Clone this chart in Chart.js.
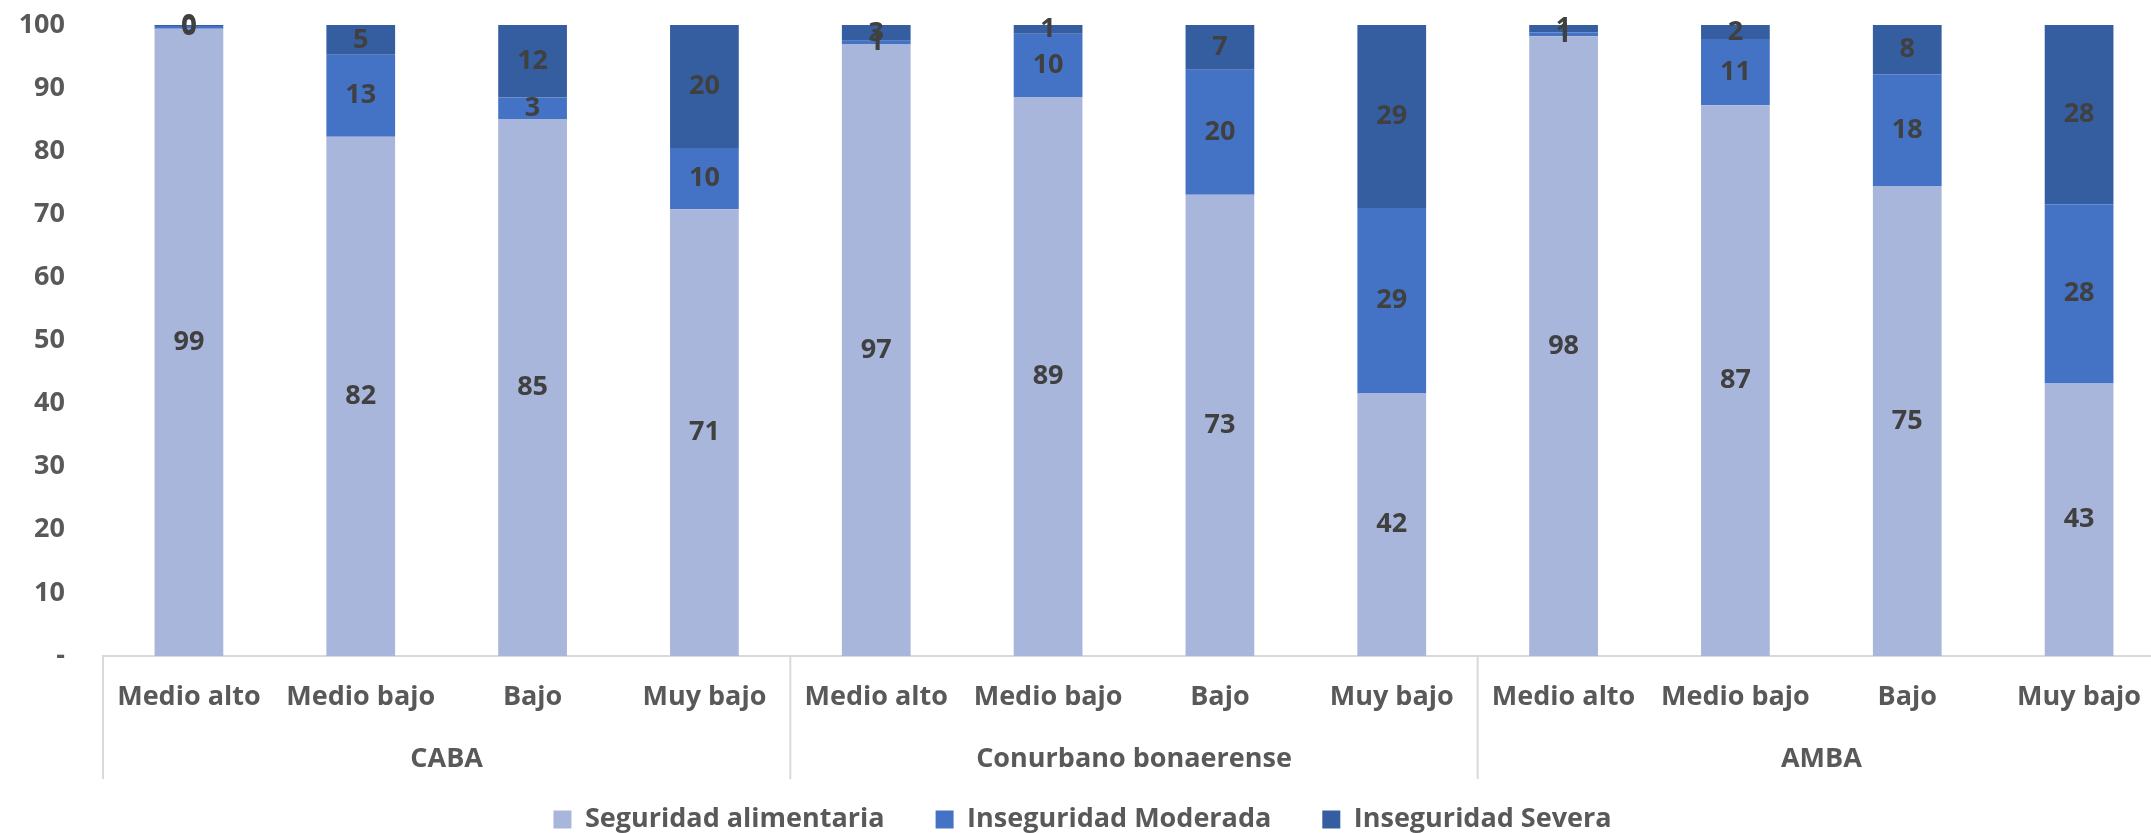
<html>
    <body style="margin:0; background-color:#ffffff; overflow:hidden;">
        <script src="https://cdn.jsdelivr.net/npm/chart.js@4.4.1/dist/chart.umd.min.js"></script>

        <div style="width:2170px; height:843px;">
            <canvas id="chart" width="2170" height="843"></canvas>
        </div>

        <script>
            // categories
            const groups = ["CABA", "Conurbano bonaerense", "AMBA"];
            const levels = ["Medio alto", "Medio bajo", "Bajo", "Muy bajo"];

            // series values (%)
            const seguridad  = [99.4, 82.3, 85.1, 70.8,   96.9, 88.6, 73.1, 41.6,   98.2, 87.3, 74.5, 43.2];
            const moderada   = [0.45, 13.0, 3.4, 9.7,     0.6, 10.0, 19.8, 29.4,    0.6, 10.5, 17.7, 28.4];
            const severa     = [0.15, 4.7, 11.5, 19.5,    2.5, 1.4, 7.1, 29.0,      1.2, 2.2, 7.8, 28.4];

            const yTicks = [0, 10, 20, 30, 40, 50, 60, 70, 80, 90, 100];

            var labelsData = [];
            for (let g = 0; g < groups.length; g++) {
                for (let l = 0; l < levels.length; l++) {
                    labelsData.push(levels[l]);
                }
            }

            const FONT = "'Open Sans', Lato, sans-serif";
            Chart.defaults.font.family = FONT;
            Chart.defaults.font.weight = "bold";
            Chart.defaults.font.size = 27;
            Chart.defaults.color = "#595959";

            // value labels in the middle of each segment
            const segmentLabels = {
                id: "segmentLabels",
                afterDatasetsDraw(chart) {
                    const ctx = chart.ctx;
                    ctx.save();
                    ctx.font = "bold 27px " + FONT;
                    ctx.fillStyle = "#404040";
                    ctx.textAlign = "center";
                    ctx.textBaseline = "middle";
                    chart.data.datasets.forEach(function(ds, i) {
                        const meta = chart.getDatasetMeta(i);
                        meta.data.forEach(function(bar, j) {
                            const y = (bar.y + bar.base) / 2;
                            ctx.fillText(Math.round(ds.data[j]), bar.x, y);
                        });
                    });
                    ctx.restore();
                }
            };

            // second level of the x axis: group names and separators
            const groupAxis = {
                id: "groupAxis",
                afterDraw(chart) {
                    const ctx = chart.ctx;
                    const x = chart.scales.x;
                    const top = chart.chartArea.bottom;
                    const step = x.getPixelForValue(1) - x.getPixelForValue(0);
                    ctx.save();
                    ctx.strokeStyle = "#d9d9d9";
                    ctx.lineWidth = 2;
                    for (let g = 0; g <= groups.length; g++) {
                        const px = x.getPixelForValue(g * levels.length) - step / 2;
                        ctx.beginPath();
                        ctx.moveTo(px, top);
                        ctx.lineTo(px, top + 123);
                        ctx.stroke();
                    }
                    ctx.font = "bold 27px " + FONT;
                    ctx.fillStyle = "#595959";
                    ctx.textAlign = "center";
                    ctx.textBaseline = "middle";
                    for (let g = 0; g < groups.length; g++) {
                        const a = x.getPixelForValue(g * levels.length) - step / 2;
                        const b = a + step * levels.length;
                        ctx.fillText(groups[g], (a + b) / 2, top + 103);
                    }
                    ctx.restore();
                }
            };

            const data = {
                labels: labelsData,
                datasets: [
                    { label: "Seguridad alimentaria", data: seguridad, backgroundColor: "#a9b6db" },
                    { label: "Inseguridad Moderada", data: moderada, backgroundColor: "#4472c4" },
                    { label: "Inseguridad Severa", data: severa, backgroundColor: "#355ea1" }
                ]
            };

            const chart = new Chart(document.getElementById("chart"), {
                type: "bar",
                data: data,
                plugins: [segmentLabels, groupAxis],
                options: {
                    responsive: false,
                    animation: false,
                    layout: { padding: { top: 25, right: 5, left: 0, bottom: 0 } },
                    datasets: { bar: { barPercentage: 0.4, categoryPercentage: 1.0 } },
                    plugins: {
                        tooltip: { enabled: false },
                        legend: {
                            position: "bottom",
                            labels: {
                                boxWidth: 18,
                                boxHeight: 18,
                                padding: 51,
                                color: "#595959",
                                font: { size: 27, weight: "bold" }
                            }
                        }
                    },
                    scales: {
                        x: {
                            stacked: true,
                            grid: { display: false, drawTicks: false },
                            border: { color: "#d9d9d9", width: 2 },
                            ticks: { padding: 25, maxRotation: 0, autoSkip: false, color: "#595959" },
                            afterFit: function(scale) { scale.height = 99; }
                        },
                        y: {
                            stacked: true,
                            min: 0,
                            max: 100,
                            grid: { display: false, drawTicks: false },
                            border: { display: false },
                            afterBuildTicks: function(scale) {
                                scale.ticks = yTicks.map(function(v) { return { value: v }; });
                            },
                            ticks: {
                                padding: 38,
                                color: "#595959",
                                callback: function(v) { return v === 0 ? "-" : v; }
                            },
                            afterFit: function(scale) {
                                scale.width = 103;
                                scale.paddingTop = 0;
                                scale.paddingBottom = 0;
                            }
                        }
                    }
                }
            });
        </script>
    </body>
</html>
